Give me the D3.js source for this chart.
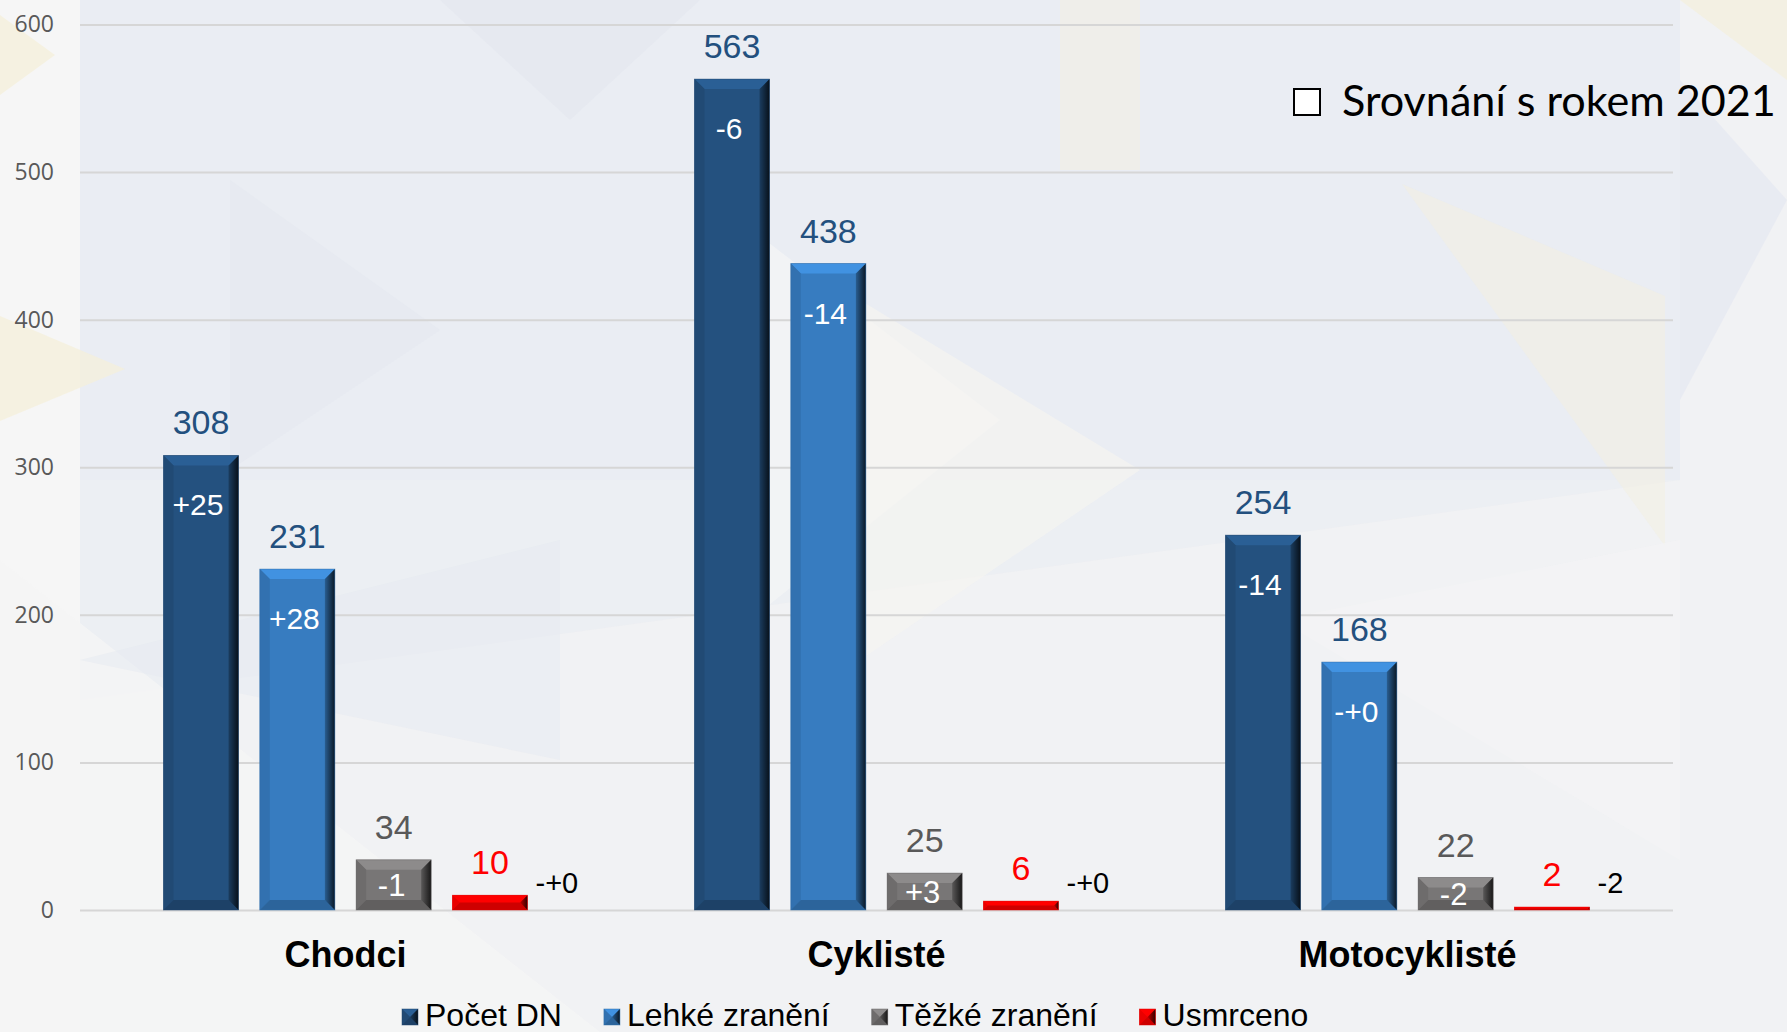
<!DOCTYPE html>
<html><head><meta charset="utf-8">
<script src="https://cdn.jsdelivr.net/npm/d3@7"></script>
<style>html,body{margin:0;padding:0;background:#f2f2f2;overflow:hidden}</style>
</head><body>
<svg id="chart" width="1787" height="1032"></svg>
<script>
const categories = ["Chodci", "Cyklisté", "Motocyklisté"];
const seriesNames = ["Počet DN", "Lehké zranění", "Těžké zranění", "Usmrceno"];
const pocetDN = [308, 563, 254];
const lehkeZraneni = [231, 438, 168];
const tezkeZraneni = [34, 25, 22];
const usmrceno = [10, 6, 2];
const pocetDNDiff = ["+25", "-6", "-14"];
const lehkeDiff = ["+28", "-14", "-+0"];
const tezkeDiff = ["-1", "+3", "-2"];
const usmrcenoDiff = ["-+0", "-+0", "-2"];
const yTicks = [0, 100, 200, 300, 400, 500, 600];
const comparisonLabel = "Srovnání s rokem 2021";

const seriesValues = [pocetDN, lehkeZraneni, tezkeZraneni, usmrceno];
const seriesDiffs = [pocetDNDiff, lehkeDiff, tezkeDiff, usmrcenoDiff];
const barColors = ["#24517f", "#377cc0", "#787676", "#ff0000"];
const valueColors = ["#23507e", "#23507e", "#595959", "#ff0000"];

const svg = d3.select("#chart");
const W = 1787, H = 1032;

// background decoration (faint triangular pattern)
const bg = svg.append("g");
bg.append("rect").attr("width", W).attr("height", H).attr("fill", "#f1f2f4");
const tri = [
  {p:[[80,0],[1680,0],[1680,480],[80,480]], f:"#e8ebf2", o:0.8},
  {p:[[80,480],[1680,480],[80,700]], f:"#e8ebf2", o:0.5},
  {p:[[0,0],[80,0],[80,1032],[0,1032]], f:"#f6f6f6", o:1},
  {p:[[0,15],[55,55],[0,95]], f:"#f5efd8", o:0.7},
  {p:[[0,316],[125,369],[0,421]], f:"#f5efd9", o:0.7},
  {p:[[700,190],[1000,420],[700,660]], f:"#f6f6f7", o:0.6},
  {p:[[860,300],[1140,470],[860,660]], f:"#f6f5f0", o:0.6},
  {p:[[1402,184],[1665,296],[1665,546]], f:"#f4f0df", o:0.5},
  {p:[[1060,0],[1140,0],[1140,170],[1060,170]], f:"#f3f0e2", o:0.5},
  {p:[[1680,0],[1787,0],[1787,80]], f:"#f4efdc", o:0.7},
  {p:[[1680,80],[1787,200],[1680,400]], f:"#e6e9f1", o:0.8},
  {p:[[440,0],[700,0],[570,120]], f:"#e2e6ef", o:0.6},
  {p:[[230,180],[440,330],[230,470]], f:"#e4e8f0", o:0.5},
  {p:[[0,560],[600,1032],[0,1032]], f:"#f5f5f5", o:0.8},
  {p:[[80,660],[560,540],[560,760]], f:"#e6e9f1", o:0.5},
  {p:[[1280,620],[1680,540],[1680,860]], f:"#f4f4f5", o:0.7},
];
tri.forEach(t => bg.append("polygon").attr("points", t.p.map(d=>d.join(",")).join(" ")).attr("fill", t.f).attr("opacity", t.o));

const left = 80, right = 1673;
const y = d3.scaleLinear().domain([0, 600]).range([910, 24.5]);
const x0 = d3.scaleBand().domain(categories).range([left, right]).paddingInner(0).paddingOuter(0);
const x1 = d3.scaleBand().domain(seriesNames).range([0, x0.bandwidth()]).paddingInner(0.221).paddingOuter(0.867);

// gridlines + y axis
const yAxis = d3.axisLeft(y).tickValues(yTicks).tickSize(-(right - left)).tickPadding(26);
const ga = svg.append("g").attr("transform", `translate(${left},0)`).call(yAxis);
ga.select(".domain").remove();
ga.selectAll(".tick line").attr("stroke", "#d6d6d6").attr("stroke-width", 2);
ga.selectAll(".tick text").attr("fill", "#595959").attr("font-family", "Open Sans").attr("font-size", 23);

const defs = svg.append("defs");
const rg = defs.append("linearGradient").attr("id", "rightShade").attr("x1", "0").attr("x2", "1").attr("y1", "0").attr("y2", "0");
rg.append("stop").attr("offset", "0").attr("stop-color", "#000").attr("stop-opacity", 0.25);
rg.append("stop").attr("offset", "1").attr("stop-color", "#000").attr("stop-opacity", 0.8);

// bevel bar
function bevelBar(g, x, yTop, w, h, color) {
  const c = d3.color(color);
  const b = Math.max(0.5, Math.min(10, h / 2, w / 2));
  g.append("rect").attr("x", x).attr("y", yTop).attr("width", w).attr("height", h).attr("fill", color);
  const poly = (pts, fill) => g.append("polygon").attr("points", pts.map(p=>p.join(",")).join(" ")).attr("fill", fill);
  poly([[x,yTop],[x+w,yTop],[x+w-b,yTop+b],[x+b,yTop+b]], c.brighter(0.45).formatHex());
  poly([[x,yTop],[x+b,yTop+b],[x+b,yTop+h-b],[x,yTop+h]], c.darker(0.25).formatHex());
  poly([[x,yTop+h],[x+b,yTop+h-b],[x+w-b,yTop+h-b],[x+w,yTop+h]], c.darker(0.6).formatHex());
  poly([[x+w,yTop],[x+w,yTop+h],[x+w-b,yTop+h-b],[x+w-b,yTop+b]], "url(#rightShade)");
  g.append("rect").attr("x", x).attr("y", yTop).attr("width", w).attr("height", h)
    .attr("fill", "none").attr("stroke", c.darker(0.4).formatHex()).attr("stroke-width", 0.8).attr("stroke-opacity", 0.6);
}

const barsG = svg.append("g");
const labelsG = svg.append("g");
categories.forEach((cat, ci) => {
  seriesNames.forEach((s, si) => {
    const v = seriesValues[si][ci];
    const bx = x0(cat) + x1(s);
    const bw = x1.bandwidth();
    const top = y(v), h = y(0) - y(v);
    bevelBar(barsG, bx, top, bw, h, barColors[si]);
    labelsG.append("text").attr("x", bx + bw / 2).attr("y", top - 21)
      .attr("text-anchor", "middle").attr("font-family", "Liberation Sans, Arial").attr("font-size", 34)
      .attr("fill", valueColors[si]).text(v);
    const d = seriesDiffs[si][ci];
    if (si < 2) {
      labelsG.append("text").attr("x", bx + bw / 2 - 3).attr("y", top + 60)
        .attr("text-anchor", "middle").attr("font-family", "Liberation Sans, Arial").attr("font-size", 30)
        .attr("fill", "#ffffff").text(d);
    } else if (si === 2) {
      labelsG.append("text").attr("x", bx + bw / 2 - 2).attr("y", top + h / 2 + 11)
        .attr("text-anchor", "middle").attr("font-family", "Liberation Sans, Arial").attr("font-size", 31)
        .attr("fill", "#ffffff").text(d);
    } else {
      labelsG.append("text").attr("x", bx + bw + 8).attr("y", y(0) - 17)
        .attr("text-anchor", "start").attr("font-family", "Liberation Sans, Arial").attr("font-size", 29)
        .attr("fill", "#000000").text(d);
    }
  });
  svg.append("text").attr("x", x0(cat) + x0.bandwidth() / 2).attr("y", 967)
    .attr("text-anchor", "middle").attr("font-family", "Liberation Sans, Arial").attr("font-weight", "bold")
    .attr("font-size", 36).attr("fill", "#000").text(cat);
});

// legend
const lg = svg.append("g");
let lx = 402;
seriesNames.forEach((s, si) => {
  const mg = lg.append("g");
  bevelBar(mg, lx, 1009, 16, 16, barColors[si]);
  const t = lg.append("text").attr("x", lx + 23).attr("y", 1026).attr("font-family", "Liberation Sans, Arial")
    .attr("font-size", 32).attr("fill", "#000").text(s);
  lx = lx + 23 + t.node().getComputedTextLength() + 42;
});

// comparison note
svg.append("rect").attr("x", 1294).attr("y", 89).attr("width", 26).attr("height", 26)
  .attr("fill", "#fff").attr("stroke", "#000").attr("stroke-width", 2);
const ct = svg.append("text").attr("x", 1342).attr("y", 116).attr("font-family", "Lato").attr("font-size", 44)
  .attr("fill", "#000").text(comparisonLabel);
const cw = ct.node().getComputedTextLength();
ct.attr("font-size", 44 * 434 / cw);
</script>
</body></html>
